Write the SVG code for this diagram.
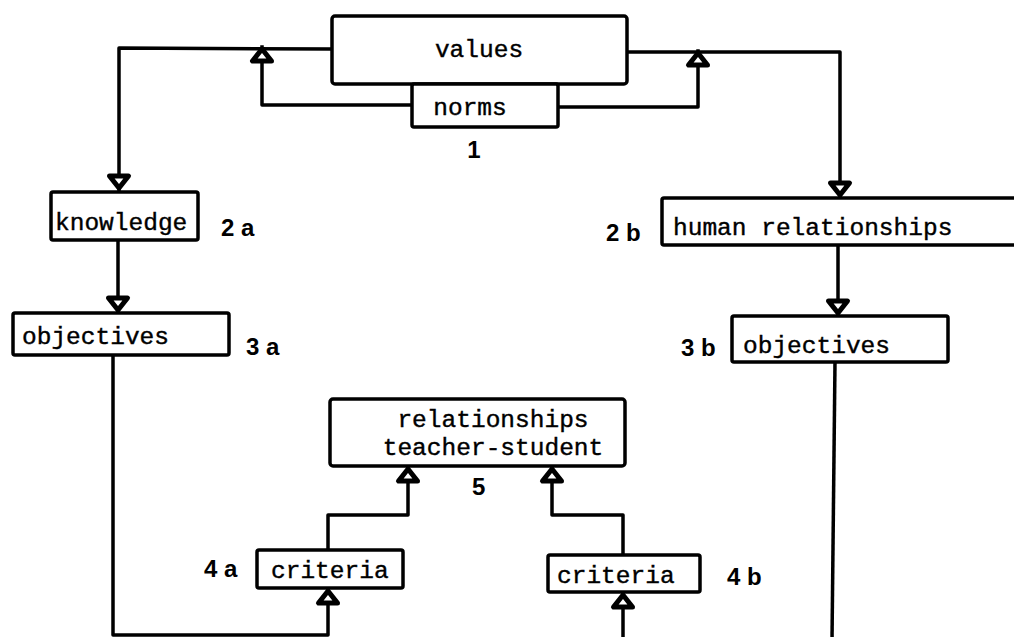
<svg xmlns="http://www.w3.org/2000/svg" width="1014" height="637" viewBox="0 0 1014 637">
<style>
.box{fill:#fff;stroke:#000;stroke-width:3.5;stroke-linejoin:round}
.t{font-family:"Liberation Mono","Courier New",monospace;font-size:24.5px;fill:#000;stroke:#000;stroke-width:0.4}
.lbl{font-family:"Liberation Sans",Arial,sans-serif;font-weight:bold;font-size:24px;fill:#000}
.c{fill:none;stroke:#000;stroke-width:3.5;stroke-linejoin:round;stroke-linecap:square}
.ar{marker-end:url(#arr)}
</style>
<defs>
<marker id="arr" markerUnits="userSpaceOnUse" viewBox="-20 -14 24 28" refX="0" refY="0" markerWidth="24" markerHeight="28" orient="auto">
<path d="M-2,0 L-14,-9.5 L-14,9.5 Z" fill="#fff" stroke="#000" stroke-width="5" stroke-linejoin="round"/>
</marker>
</defs>
<g id="connectors">
<path class="c ar" d="M332,49 L119,48 L119,190"/>
<path class="c ar" d="M412,105 L262,105 L262,47"/>
<path class="c ar" d="M627,52 L840,52 L840,197"/>
<path class="c ar" d="M558,107 L698,107 L698,51"/>
<path class="c ar" d="M118,240 L118,312"/>
<path class="c ar" d="M838,245 L838,315"/>
<path class="c ar" d="M113,355 L113,635 L328,635 L328,589"/>
<path class="c ar" d="M328,550 L328,515 L408,515 L408,467"/>
<path class="c ar" d="M623,555 L623,515 L552,515 L552,467"/>
<path class="c" d="M835,362 L832,640"/>
<path class="c ar" d="M623,640 L623,593"/>
</g>
<g id="values">
<rect class="box" x="332" y="16" width="295" height="68" rx="3"/>
<text class="t" x="479" y="57" text-anchor="middle">values</text>
</g>
<g id="norms">
<rect class="box" x="412" y="84" width="146" height="43" rx="2"/>
<text class="t" x="470" y="115" text-anchor="middle">norms</text>
<text class="lbl" x="474" y="158" text-anchor="middle">1</text>
</g>
<g id="knowledge">
<rect class="box" x="51" y="192" width="147" height="48" rx="2"/>
<text class="t" x="55" y="230">knowledge</text>
<text class="lbl" x="221" y="236">2 a</text>
</g>
<g id="objectives-a">
<rect class="box" x="13" y="313" width="216" height="42" rx="2"/>
<text class="t" x="22" y="344">objectives</text>
<text class="lbl" x="246" y="355">3 a</text>
</g>
<g id="human-relationships">
<rect class="box" x="662" y="198" width="370" height="47" rx="2"/>
<text class="t" x="673" y="235">human relationships</text>
<text class="lbl" x="606" y="241">2 b</text>
</g>
<g id="objectives-b">
<rect class="box" x="732" y="316" width="216" height="46" rx="2"/>
<text class="t" x="743" y="353">objectives</text>
<text class="lbl" x="681" y="356">3 b</text>
</g>
<g id="relationships">
<rect class="box" x="330" y="399" width="295" height="67" rx="3"/>
<text class="t" x="493" y="427" text-anchor="middle">relationships</text>
<text class="t" x="493" y="455" text-anchor="middle">teacher-student</text>
<text class="lbl" x="472" y="495">5</text>
</g>
<g id="criteria-a">
<rect class="box" x="257" y="550" width="146" height="38" rx="2"/>
<text class="t" x="271" y="578">criteria</text>
<text class="lbl" x="204" y="577">4 a</text>
</g>
<g id="criteria-b">
<rect class="box" x="548" y="555" width="152" height="37" rx="2"/>
<text class="t" x="557" y="583">criteria</text>
<text class="lbl" x="727" y="585">4 b</text>
</g>
</svg>
